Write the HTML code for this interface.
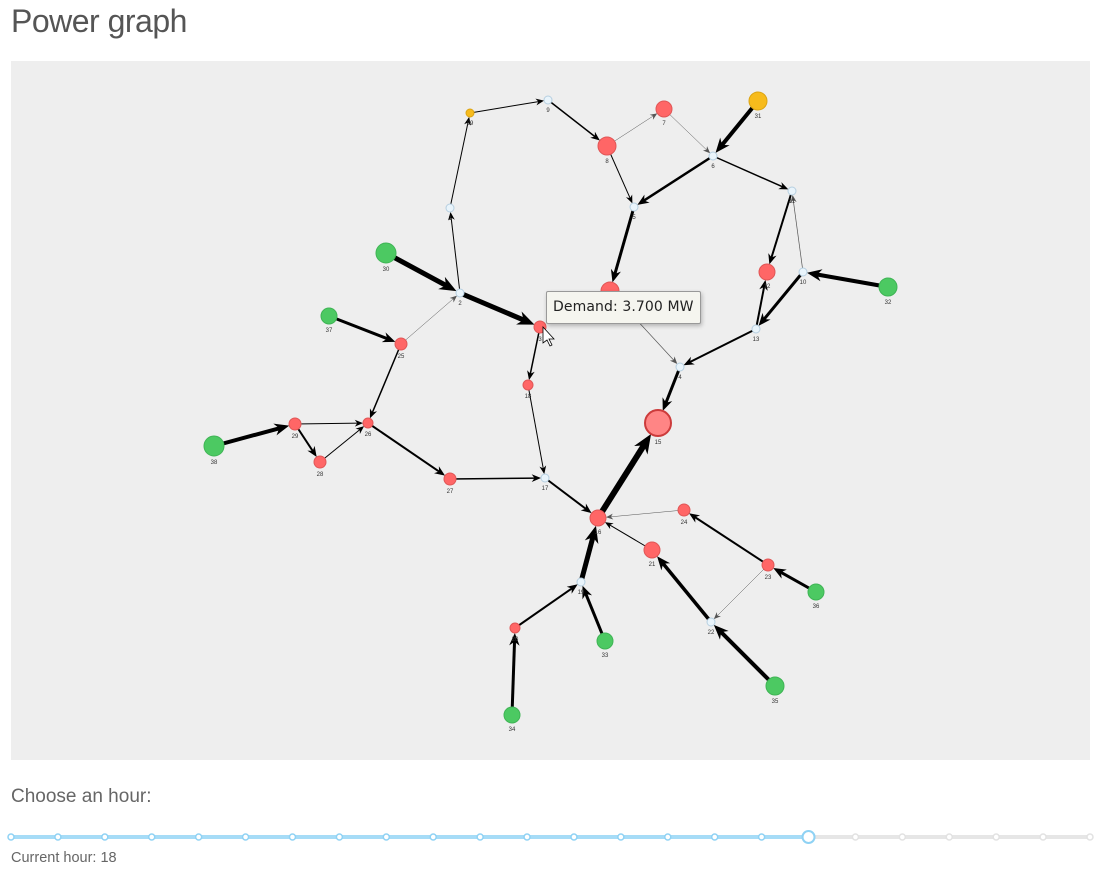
<!DOCTYPE html>
<html><head><meta charset="utf-8"><style>
body{margin:0;background:#fff;width:1095px;height:881px;overflow:hidden;font-family:"Liberation Sans",sans-serif;position:relative}
#title{position:absolute;left:11px;top:3px;font-size:32px;color:#555;font-weight:300;letter-spacing:-0.5px}
#chart{position:absolute;left:11px;top:61px;width:1079px;height:699px;background:#eee}
#choose{position:absolute;left:11px;top:786px;font-size:19px;color:#666}
#cur{position:absolute;left:11px;top:850px;font-size:14.5px;color:#666}
#tip{position:absolute;left:546px;top:291px;width:153px;height:31px;background:#f5f5ef;border:1px solid #999;border-radius:2px;box-shadow:1px 2px 4px rgba(0,0,0,.25);font-family:"DejaVu Sans",sans-serif;font-size:14px;line-height:31px;text-indent:6px;color:#222;letter-spacing:0.1px}
</style></head><body>
<div id="title">Power graph</div>
<svg id="chart" width="1079" height="699" viewBox="11 61 1079 699"></svg>
<div id="tip">Demand: 3.700 MW</div>
<div id="choose">Choose an hour:</div>
<svg id="slider" width="1095" height="20" style="position:absolute;left:0;top:827px"></svg>
<div id="cur">Current hour: 18</div>
<script>
const nodeIds=["39","9","8","7","31","6","5","3a","11","12","10","32","13","4","15","1","30","2","3","37","25","18","26","29","28","38","27","17","16","24","21","23","36","19","20","33","22","35","34"];
const nodeX=[470,548,607,664,758,713,634,610,792,767,803,888,756,680,658,450,386,460,540,329,401,528,368,295,320,214,450,545,598,684,652,768,816,581,515,605,711,775,512];
const nodeY=[113,100,146,109,101,156,207,291,191,272,272,287,329,367,423,208,253,293,327,316,344,385,423,424,462,446,479,478,518,510,550,565,592,582,628,641,622,686,715];
const nodeType=["y","b","r","r","y","b","b","r","b","r","b","g","b","b","p","b","g","b","r","g","r","r","r","r","r","g","r","b","r","r","r","r","g","b","r","g","b","g","g"];
const nodeR=[4,4,9,8,9,4,4,9,4,8,4,9,4,4,13,4,10,4,6,8,6,5,5,6,6,10,6,4,8,6,8,6,8,4,5,8,4,9,8];
const edgeFrom=["39","9","8","7","31","6","8","6","11","10","32","10","13","13","5","3a","4","16","30","2","2","1","25","37","25","38","29","29","28","26","27","3","18","17","24","21","19","20","34","33","22","35","23","23","36"];
const edgeTo=["9","8","7","6","6","5","5","11","12","11","10","13","12","4","3a","4","15","15","2","3","1","39","2","25","26","29","26","28","26","27","17","18","17","16","16","16","16","19","20","19","21","22","24","22","23"];
const edgeW=[1,1.5,0.5,0.5,4,2.5,1,1.5,2,0.7,4,3,2,2,3,0.7,3,6,5,5,1,1,0.5,3,1.5,4,1,2,1,2,1.5,1.5,1,2,0.5,1,5,2,3,3,3.5,4,2,0.5,3];
const NS="http://www.w3.org/2000/svg";
const svg=document.getElementById('chart');
const idx=id=>nodeIds.indexOf(id);
const fill={r:"#ff6666",g:"#4cc962",y:"#f7bb1c",b:"#e9f4fb",p:"#ff8585"};
const stroke={r:"#e05656",g:"#3fb455",y:"#dba414",b:"#b6cfe0",p:"#cc3b3b"};
for(let i=0;i<edgeFrom.length;i++){
  const a=idx(edgeFrom[i]),b=idx(edgeTo[i]);
  const x1=nodeX[a],y1=nodeY[a],x2=nodeX[b],y2=nodeY[b];
  const dx=x2-x1,dy=y2-y1,L=Math.hypot(dx,dy),ux=dx/L,uy=dy/L;
  const w=edgeW[i],col=w<0.8?"#555":"#000";
  const ex=x2-ux*nodeR[b],ey=y2-uy*nodeR[b];
  const al=6+w*2.2,aw=2.5+w*0.9;
  const bx=ex-ux*al,by=ey-uy*al;
  const ln=document.createElementNS(NS,'line');
  
  
  ln.setAttribute('x1',x1);ln.setAttribute('y1',y1);ln.setAttribute('x2',bx+ux*al*0.5);ln.setAttribute('y2',by+uy*al*0.5);
  ln.setAttribute('stroke',col);ln.setAttribute('stroke-width',w);
  svg.appendChild(ln);
  const p=document.createElementNS(NS,'polygon');
  
  
  p.setAttribute('points',`${ex},${ey} ${bx-uy*aw},${by+ux*aw} ${bx+ux*al*0.3},${by+uy*al*0.3} ${bx+uy*aw},${by-ux*aw}`);
  p.setAttribute('fill',col);
  svg.appendChild(p);
}
for(let i=0;i<nodeIds.length;i++){
  const c=document.createElementNS(NS,'circle');
  
  
  c.setAttribute('cx',nodeX[i]);c.setAttribute('cy',nodeY[i]);c.setAttribute('r',nodeR[i]);
  c.setAttribute('fill',fill[nodeType[i]]);c.setAttribute('stroke',stroke[nodeType[i]]);c.setAttribute('stroke-width',nodeType[i]=='p'?2:1);
  svg.appendChild(c);
  if(nodeIds[i]=="3a")continue;
  const t=document.createElementNS(NS,'text');
  
  
  t.setAttribute('x',nodeX[i]);t.setAttribute('y',nodeY[i]+nodeR[i]+8);
  t.setAttribute('text-anchor','middle');t.setAttribute('font-size','6');t.setAttribute('fill','#333');
  t.setAttribute('font-family','Liberation Sans, sans-serif');
  t.textContent=nodeIds[i];
  svg.appendChild(t);
}
const cur=document.createElementNS(NS,'polygon');


cur.setAttribute('points','543,327 543,343 547,340 550,346 552,345 549,339 554,339');
cur.setAttribute('fill','#fff');cur.setAttribute('stroke','#000');cur.setAttribute('stroke-width','0.8');
svg.appendChild(cur);
// slider
const hours=24,currentHour=18;
const sl=document.getElementById('slider');
const x0=11,x1=1090,step=(x1-x0)/(hours-1),hx=x0+(currentHour-1)*step;
sl.innerHTML=`<line x1="${hx}" y1="10" x2="${x1}" y2="10" stroke="#e6e6e6" stroke-width="4"/><line x1="${x0}" y1="10" x2="${hx}" y2="10" stroke="#a6dcf7" stroke-width="4"/>`;
for(let h=0;h<hours;h++){
  const x=x0+h*step;
  const c=document.createElementNS(NS,'circle');
  
  
  const big=h==currentHour-1;
  c.setAttribute('cx',x);c.setAttribute('cy',10);c.setAttribute('r',big?6:3);
  c.setAttribute('fill','#fff');c.setAttribute('stroke',h<currentHour?'#8fd2f4':'#e2e2e2');c.setAttribute('stroke-width',big?2:1.5);
  sl.appendChild(c);
}
</script>
</body></html>
